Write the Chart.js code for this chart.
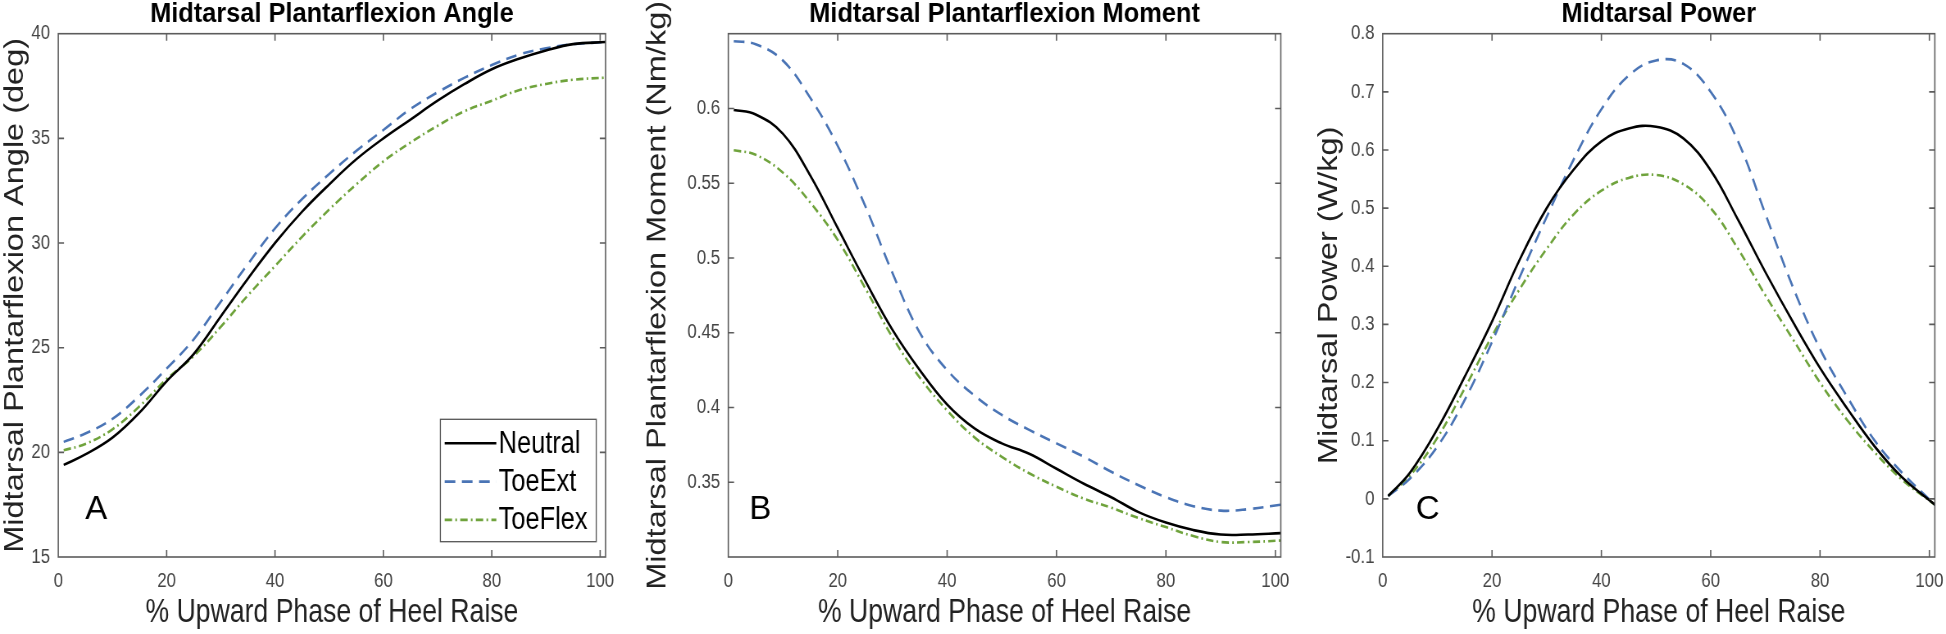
<!DOCTYPE html>
<html>
<head>
<meta charset="utf-8">
<script src="https://cdn.jsdelivr.net/npm/chart.js@4.4.0/dist/chart.umd.min.js"></script>
<style>
  html, body { margin: 0; padding: 0; background: #fff; overflow: hidden; }
  canvas { position: absolute; top: 0; }
</style>
</head>
<body>
<canvas id="angleChart"></canvas>
<canvas id="momentChart"></canvas>
<canvas id="powerChart"></canvas>
<script>
const pct = [1, 5, 10, 15, 20, 25, 30, 35, 40, 45, 50, 55, 60, 65, 70, 75, 80, 85, 90, 95, 101];

const angleNeutral = [19.4, 19.9, 20.7, 21.9, 23.4, 24.7, 26.5, 28.3, 30.0, 31.5, 32.8, 34.0, 35.0, 35.9, 36.8, 37.6, 38.3, 38.8, 39.2, 39.5, 39.6];
const angleToeExt  = [20.5, 20.9, 21.6, 22.7, 24.0, 25.4, 27.2, 29.0, 30.7, 32.1, 33.3, 34.4, 35.4, 36.4, 37.2, 37.9, 38.5, 39.0, 39.3, 39.5, 39.6];
const angleToeFlex = [20.1, 20.4, 21.1, 22.2, 23.5, 24.6, 26.0, 27.5, 28.9, 30.3, 31.6, 32.8, 33.9, 34.8, 35.6, 36.3, 36.8, 37.3, 37.6, 37.8, 37.9];

const momentNeutral = [0.599, 0.596, 0.583, 0.555, 0.520, 0.485, 0.452, 0.425, 0.402, 0.386, 0.376, 0.369, 0.359, 0.349, 0.340, 0.330, 0.323, 0.318, 0.315, 0.315, 0.316];
const momentToeExt  = [0.645, 0.643, 0.632, 0.607, 0.575, 0.535, 0.490, 0.450, 0.425, 0.408, 0.395, 0.385, 0.376, 0.367, 0.357, 0.348, 0.340, 0.334, 0.331, 0.332, 0.335];
const momentToeFlex = [0.572, 0.569, 0.557, 0.537, 0.512, 0.480, 0.447, 0.420, 0.398, 0.380, 0.367, 0.356, 0.347, 0.339, 0.333, 0.326, 0.320, 0.314, 0.310, 0.310, 0.311];

const powerNeutral = [0.005, 0.045, 0.120, 0.210, 0.305, 0.410, 0.500, 0.567, 0.615, 0.637, 0.640, 0.620, 0.565, 0.480, 0.390, 0.305, 0.225, 0.155, 0.090, 0.037, -0.010];
const powerToeExt  = [0.005, 0.035, 0.090, 0.170, 0.270, 0.380, 0.485, 0.585, 0.670, 0.728, 0.754, 0.748, 0.700, 0.615, 0.490, 0.365, 0.258, 0.175, 0.100, 0.045, -0.010];
const powerToeFlex = [0.005, 0.040, 0.105, 0.190, 0.280, 0.360, 0.430, 0.490, 0.530, 0.552, 0.557, 0.541, 0.500, 0.430, 0.350, 0.275, 0.200, 0.135, 0.080, 0.033, -0.010];

const xTicks = [0, 20, 40, 60, 80, 100];
const angleTicks = [15, 20, 25, 30, 35, 40];
const momentTicks = [0.35, 0.4, 0.45, 0.5, 0.55, 0.6];
const powerTicks = [-0.1, 0, 0.1, 0.2, 0.3, 0.4, 0.5, 0.6, 0.7, 0.8];

const seriesNames = ['Neutral', 'ToeExt', 'ToeFlex'];

// the source figure is squeezed horizontally: draw each canvas wide, show it narrow
const SX = 0.82;

const FONT = "'Liberation Sans', Arial, sans-serif";
Chart.defaults.font.family = FONT;

const styles = [
  { borderColor: '#000000', borderWidth: 2.6, borderDash: [] },
  { borderColor: '#4a74b5', borderWidth: 2.6, borderDash: [13, 8] },
  { borderColor: '#6fa33c', borderWidth: 2.6, borderDash: [9, 4, 2, 4] }
];

function toPoints(vals) {
  return pct.map((p, i) => ({ x: p, y: vals[i] }));
}

function fmt(v) {
  return String(Math.round(v * 100) / 100);
}

// box with MATLAB style inward ticks on all four sides
const boxPlugin = {
  id: 'box',
  afterDatasetsDraw(chart) {
    const { ctx, chartArea: a, scales: { x, y } } = chart;
    const tl = 7;
    ctx.save();
    ctx.strokeStyle = '#5c5c5c';
    ctx.lineWidth = 1.6;
    ctx.beginPath();
    x.ticks.forEach(t => {
      const px = x.getPixelForValue(t.value);
      if (px < a.left + 1 || px > a.right - 1) return;
      ctx.moveTo(px, a.bottom); ctx.lineTo(px, a.bottom - tl);
      ctx.moveTo(px, a.top); ctx.lineTo(px, a.top + tl);
    });
    y.ticks.forEach(t => {
      const py = y.getPixelForValue(t.value);
      if (py < a.top + 1 || py > a.bottom - 1) return;
      ctx.moveTo(a.left, py); ctx.lineTo(a.left + tl, py);
      ctx.moveTo(a.right, py); ctx.lineTo(a.right - tl, py);
    });
    ctx.stroke();
    ctx.strokeRect(a.left, a.top, a.right - a.left, a.bottom - a.top);
    ctx.restore();
  }
};

// title and panel letter, drawn less squeezed than the axes text
const textPlugin = {
  id: 'panelText',
  afterDraw(chart, args, opts) {
    const { ctx, chartArea: a } = chart;
    ctx.save();
    ctx.fillStyle = '#000';
    ctx.textAlign = 'center';
    ctx.textBaseline = 'middle';

    ctx.save();
    ctx.translate((a.left + a.right) / 2, opts.titleY);
    ctx.scale(0.94 / SX, 1);
    ctx.font = 'bold 27px ' + FONT;
    ctx.fillText(opts.title, 0, 0);
    ctx.restore();

    ctx.save();
    ctx.translate(a.left + opts.dx / SX, opts.letterY);
    ctx.scale(1 / SX, 1);
    ctx.font = '33px ' + FONT;
    ctx.fillText(opts.letter, 0, 0);
    ctx.restore();

    ctx.restore();
  }
};

// boxed legend inside the angle panel (positions in page pixels)
const legendPlugin = {
  id: 'boxLegend',
  afterDraw(chart, args, opts) {
    if (!opts.show) return;
    const { ctx } = chart;
    const cx = v => (v - opts.origin) / SX;
    ctx.save();
    ctx.fillStyle = '#fff';
    ctx.fillRect(cx(opts.left), opts.top, cx(opts.right) - cx(opts.left), opts.bottom - opts.top);
    ctx.strokeStyle = '#555';
    ctx.lineWidth = 1.3;
    ctx.strokeRect(cx(opts.left), opts.top, cx(opts.right) - cx(opts.left), opts.bottom - opts.top);
    ctx.font = '31px ' + FONT;
    ctx.textBaseline = 'middle';
    chart.data.datasets.forEach((ds, i) => {
      const yy = opts.firstRow + i * opts.rowGap;
      ctx.strokeStyle = ds.borderColor;
      ctx.lineWidth = ds.borderWidth;
      ctx.setLineDash(ds.borderDash);
      ctx.beginPath();
      ctx.moveTo(cx(opts.lineFrom), yy);
      ctx.lineTo(cx(opts.lineTo), yy);
      ctx.stroke();
      ctx.setLineDash([]);
      ctx.fillStyle = '#000';
      ctx.fillText(ds.label, cx(opts.textX), yy + 1);
    });
    ctx.restore();
  }
};

function buildPanel(id, spec) {
  const canvas = document.getElementById(id);
  const axisW = (spec.plotLeft - spec.canvasLeft) / SX;
  const plotRight = (spec.plotRight - spec.canvasLeft) / SX;
  const width = Math.ceil(plotRight + 13);
  const extra = width - plotRight;
  canvas.width = width;
  canvas.height = 634;
  canvas.style.left = spec.canvasLeft + 'px';
  canvas.style.width = (width * SX) + 'px';
  canvas.style.height = '634px';

  const titleOffset = (spec.yTitleX - spec.canvasLeft) / SX - 16.5;
  if (spec.legend) spec.legend.origin = spec.canvasLeft;

  return new Chart(canvas, {
    type: 'line',
    data: {
      datasets: spec.series.map((vals, i) => ({
        label: seriesNames[i],
        data: toPoints(vals),
        borderColor: styles[i].borderColor,
        borderWidth: styles[i].borderWidth,
        borderDash: styles[i].borderDash,
        pointRadius: 0,
        fill: false,
        tension: 0.4
      }))
    },
    options: {
      responsive: false,
      animation: false,
      devicePixelRatio: 1,
      layout: { padding: { left: 0, right: extra, top: 33.7, bottom: 0 } },
      plugins: {
        legend: { display: false },
        tooltip: { enabled: false },
        title: { display: false },
        panelText: { title: spec.title, titleY: 15, letter: spec.letter, dx: spec.letterDx, letterY: 510 },
        boxLegend: spec.legend || { show: false }
      },
      scales: {
        x: {
          type: 'linear',
          min: 0,
          max: 101,
          grid: { display: false, drawTicks: false },
          border: { display: false },
          afterBuildTicks: s => { s.ticks = xTicks.map(v => ({ value: v })); },
          ticks: { color: '#444', font: { size: 20.5 }, padding: 12, maxRotation: 0, autoSkip: false, callback: fmt },
          title: {
            display: true,
            text: '% Upward Phase of Heel Raise',
            color: '#222',
            font: { size: 32.5, lineHeight: 1 },
            padding: { top: 0, bottom: 5 }
          },
          afterFit: s => { s.height = 77; s.paddingLeft = 0; s.paddingRight = 0; }
        },
        y: {
          type: 'linear',
          min: spec.yMin,
          max: spec.yMax,
          grid: { display: false, drawTicks: false },
          border: { display: false },
          afterBuildTicks: s => { s.ticks = spec.yTicks.map(v => ({ value: v })); },
          ticks: { color: '#444', font: { size: 20.5 }, padding: 10, autoSkip: false, callback: fmt },
          title: {
            display: true,
            text: spec.yTitle,
            color: '#222',
            font: { size: 32.5, lineHeight: 1 },
            padding: { top: titleOffset, bottom: 0 }
          },
          afterFit: s => { s.width = axisW; s.paddingTop = 0; s.paddingBottom = 0; }
        }
      }
    },
    plugins: [boxPlugin, textPlugin, legendPlugin]
  });
}

buildPanel('angleChart', {
  canvasLeft: 0, plotLeft: 58.3, plotRight: 606, yTitleX: 15.5,
  title: 'Midtarsal Plantarflexion Angle',
  yTitle: 'Midtarsal Plantarflexion Angle (deg)',
  yMin: 15, yMax: 40, yTicks: angleTicks,
  series: [angleNeutral, angleToeExt, angleToeFlex],
  letter: 'A', letterDx: 38,
  legend: { show: true, left: 440.7, right: 596.7, top: 419.3, bottom: 541.7,
            firstRow: 443.3, rowGap: 38.3, lineFrom: 445, lineTo: 496.7, textX: 499 }
});

buildPanel('momentChart', {
  canvasLeft: 640, plotLeft: 728.3, plotRight: 1280.7, yTitleX: 658,
  title: 'Midtarsal Plantarflexion Moment',
  yTitle: 'Midtarsal Plantarflexion Moment (Nm/kg)',
  yMin: 0.3, yMax: 0.65, yTicks: momentTicks,
  series: [momentNeutral, momentToeExt, momentToeFlex],
  letter: 'B', letterDx: 32
});

buildPanel('powerChart', {
  canvasLeft: 1300, plotLeft: 1382.7, plotRight: 1935, yTitleX: 1330,
  title: 'Midtarsal Power',
  yTitle: 'Midtarsal Power (W/kg)',
  yMin: -0.1, yMax: 0.8, yTicks: powerTicks,
  series: [powerNeutral, powerToeExt, powerToeFlex],
  letter: 'C', letterDx: 45
});
</script>
</body>
</html>
